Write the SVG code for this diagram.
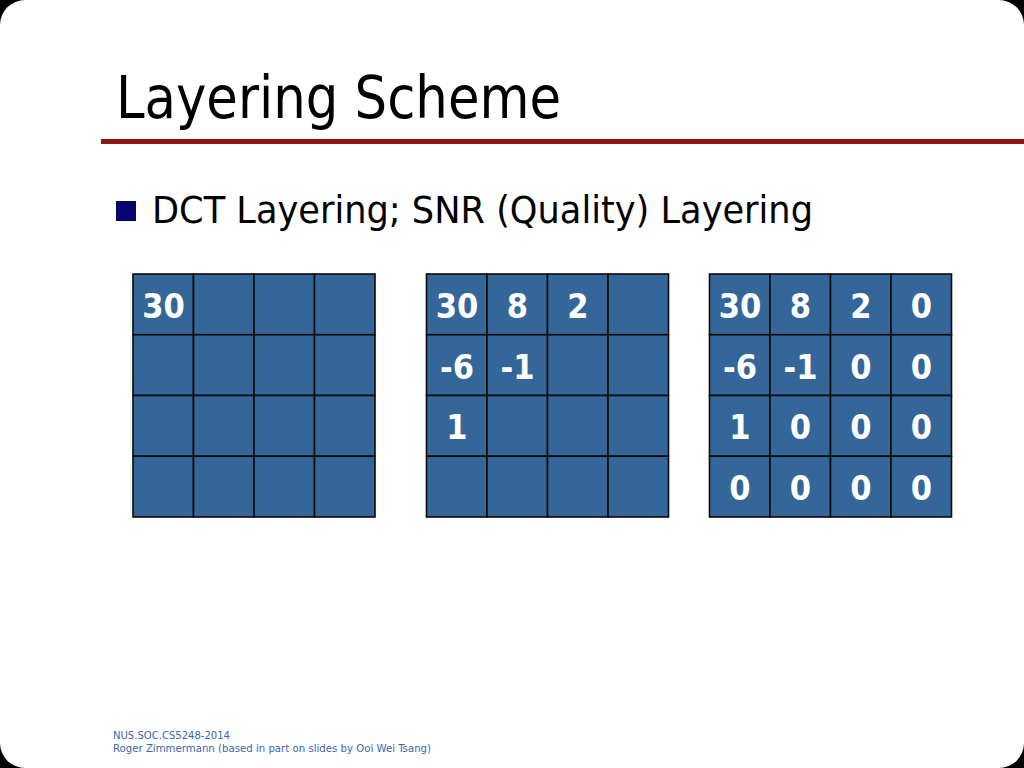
<svg xmlns="http://www.w3.org/2000/svg" width="1024" height="768" viewBox="0 0 1024 768">
  <style>
    .cell { fill: #346699; stroke: #0a0a0a; stroke-width: 1.6; }
    .num { font-family: "DejaVu Sans Condensed", "DejaVu Sans", sans-serif; font-stretch: condensed; font-weight: bold; font-size: 34px; fill: #ffffff; text-anchor: middle; }
    .title { font-family: "DejaVu Sans Condensed", "DejaVu Sans", sans-serif; font-stretch: condensed; font-size: 58px; fill: #000000; }
    .bullet { font-family: "DejaVu Sans Condensed", "DejaVu Sans", sans-serif; font-stretch: condensed; font-size: 37px; fill: #000000; }
    .foot { font-family: "DejaVu Sans Condensed", "DejaVu Sans", sans-serif; font-stretch: condensed; font-size: 11px; fill: #3d64b0; }
  </style>
  <rect x="0" y="0" width="1024" height="768" fill="#000000"/>
  <rect x="0" y="0" width="1024" height="768" rx="25" ry="25" fill="#ffffff"/>

  <g id="title">
    <text class="title" x="116" y="118" textLength="445" lengthAdjust="spacingAndGlyphs">Layering Scheme</text>
    <rect x="101" y="139" width="923" height="5" fill="#8b1414"/>
  </g>

  <g id="bullet">
    <rect x="116" y="201" width="20" height="20" fill="#06066e"/>
    <text class="bullet" x="152" y="223" textLength="661" lengthAdjust="spacingAndGlyphs">DCT Layering; SNR (Quality) Layering</text>
  </g>

  <g id="grid1">
    <rect class="cell" x="133" y="274" width="60.5" height="60.75"/>
    <rect class="cell" x="193.5" y="274" width="60.5" height="60.75"/>
    <rect class="cell" x="254" y="274" width="60.5" height="60.75"/>
    <rect class="cell" x="314.5" y="274" width="60.5" height="60.75"/>
    <rect class="cell" x="133" y="334.75" width="60.5" height="60.75"/>
    <rect class="cell" x="193.5" y="334.75" width="60.5" height="60.75"/>
    <rect class="cell" x="254" y="334.75" width="60.5" height="60.75"/>
    <rect class="cell" x="314.5" y="334.75" width="60.5" height="60.75"/>
    <rect class="cell" x="133" y="395.5" width="60.5" height="60.75"/>
    <rect class="cell" x="193.5" y="395.5" width="60.5" height="60.75"/>
    <rect class="cell" x="254" y="395.5" width="60.5" height="60.75"/>
    <rect class="cell" x="314.5" y="395.5" width="60.5" height="60.75"/>
    <rect class="cell" x="133" y="456.25" width="60.5" height="60.75"/>
    <rect class="cell" x="193.5" y="456.25" width="60.5" height="60.75"/>
    <rect class="cell" x="254" y="456.25" width="60.5" height="60.75"/>
    <rect class="cell" x="314.5" y="456.25" width="60.5" height="60.75"/>
    <text class="num" x="163.5" y="318">30</text>
  </g>

  <g id="grid2">
    <rect class="cell" x="426.5" y="274" width="60.5" height="60.75"/>
    <rect class="cell" x="487" y="274" width="60.5" height="60.75"/>
    <rect class="cell" x="547.5" y="274" width="60.5" height="60.75"/>
    <rect class="cell" x="608" y="274" width="60.5" height="60.75"/>
    <rect class="cell" x="426.5" y="334.75" width="60.5" height="60.75"/>
    <rect class="cell" x="487" y="334.75" width="60.5" height="60.75"/>
    <rect class="cell" x="547.5" y="334.75" width="60.5" height="60.75"/>
    <rect class="cell" x="608" y="334.75" width="60.5" height="60.75"/>
    <rect class="cell" x="426.5" y="395.5" width="60.5" height="60.75"/>
    <rect class="cell" x="487" y="395.5" width="60.5" height="60.75"/>
    <rect class="cell" x="547.5" y="395.5" width="60.5" height="60.75"/>
    <rect class="cell" x="608" y="395.5" width="60.5" height="60.75"/>
    <rect class="cell" x="426.5" y="456.25" width="60.5" height="60.75"/>
    <rect class="cell" x="487" y="456.25" width="60.5" height="60.75"/>
    <rect class="cell" x="547.5" y="456.25" width="60.5" height="60.75"/>
    <rect class="cell" x="608" y="456.25" width="60.5" height="60.75"/>
    <text class="num" x="457" y="318">30</text>
    <text class="num" x="517.5" y="318">8</text>
    <text class="num" x="578" y="318">2</text>
    <text class="num" x="457" y="379">-6</text>
    <text class="num" x="517.5" y="379">-1</text>
    <text class="num" x="457" y="439">1</text>
  </g>

  <g id="grid3">
    <rect class="cell" x="709.5" y="274" width="60.5" height="60.75"/>
    <rect class="cell" x="770" y="274" width="60.5" height="60.75"/>
    <rect class="cell" x="830.5" y="274" width="60.5" height="60.75"/>
    <rect class="cell" x="891" y="274" width="60.5" height="60.75"/>
    <rect class="cell" x="709.5" y="334.75" width="60.5" height="60.75"/>
    <rect class="cell" x="770" y="334.75" width="60.5" height="60.75"/>
    <rect class="cell" x="830.5" y="334.75" width="60.5" height="60.75"/>
    <rect class="cell" x="891" y="334.75" width="60.5" height="60.75"/>
    <rect class="cell" x="709.5" y="395.5" width="60.5" height="60.75"/>
    <rect class="cell" x="770" y="395.5" width="60.5" height="60.75"/>
    <rect class="cell" x="830.5" y="395.5" width="60.5" height="60.75"/>
    <rect class="cell" x="891" y="395.5" width="60.5" height="60.75"/>
    <rect class="cell" x="709.5" y="456.25" width="60.5" height="60.75"/>
    <rect class="cell" x="770" y="456.25" width="60.5" height="60.75"/>
    <rect class="cell" x="830.5" y="456.25" width="60.5" height="60.75"/>
    <rect class="cell" x="891" y="456.25" width="60.5" height="60.75"/>
    <text class="num" x="740" y="318">30</text>
    <text class="num" x="800.5" y="318">8</text>
    <text class="num" x="861" y="318">2</text>
    <text class="num" x="921.5" y="318">0</text>
    <text class="num" x="740" y="379">-6</text>
    <text class="num" x="800.5" y="379">-1</text>
    <text class="num" x="861" y="379">0</text>
    <text class="num" x="921.5" y="379">0</text>
    <text class="num" x="740" y="439">1</text>
    <text class="num" x="800.5" y="439">0</text>
    <text class="num" x="861" y="439">0</text>
    <text class="num" x="921.5" y="439">0</text>
    <text class="num" x="740" y="500">0</text>
    <text class="num" x="800.5" y="500">0</text>
    <text class="num" x="861" y="500">0</text>
    <text class="num" x="921.5" y="500">0</text>
  </g>

  <g id="footer">
    <text class="foot" x="113" y="739" textLength="117" lengthAdjust="spacingAndGlyphs">NUS.SOC.CS5248-2014</text>
    <text class="foot" x="113" y="752" textLength="318" lengthAdjust="spacingAndGlyphs">Roger Zimmermann (based in part on slides by Ooi Wei Tsang)</text>
  </g>
</svg>
